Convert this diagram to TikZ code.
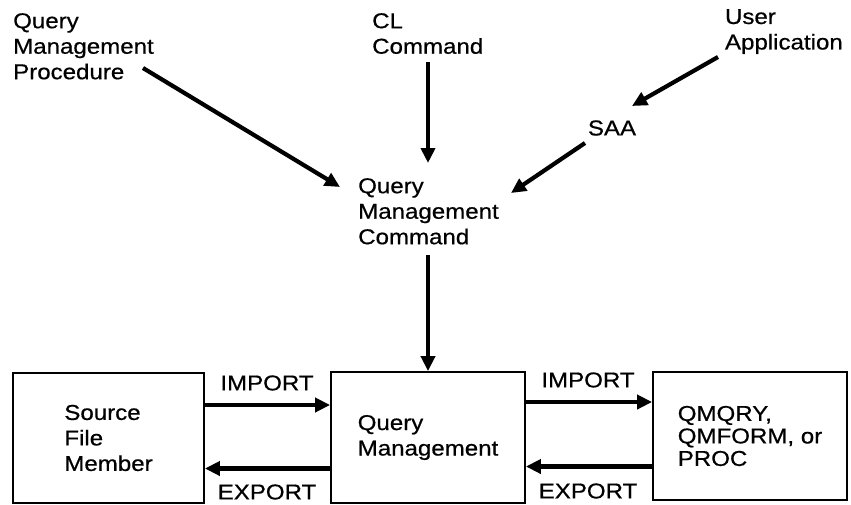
\documentclass[tikz,border=0pt]{standalone}
\usepackage{fontspec}
\setmainfont[FakeBold=0.6, FakeStretch=1.12]{Liberation Sans}
\usetikzlibrary{arrows.meta}

\begin{document}
\begin{tikzpicture}[x=1pt,y=-1pt,
  txt/.style={inner sep=0pt, align=left, font=\fontsize{21.5}{25.5}\selectfont},
  lbl/.style={txt, anchor=north west},
  box/.style={txt, draw, line width=1.8pt},
  flow/.style={line width=4.2pt, -{Triangle[length=15pt,width=14pt]}}]
  \useasboundingbox (0,0) rectangle (851,504);

  % sources of commands
  \node[lbl] (qmp) at (13,13) {Query\\Management\\Procedure};
  \node[lbl] (cl)  at (372,13) {CL\\Command};
  \node[lbl, anchor=north east] (ua) at (843,9) {User\\Application};
  \node[txt] (saa) at (612,128) {SAA};
  \node[lbl] (qmc) at (358,178) {Query\\Management\\Command};

  % boxes along the bottom
  \node[box, minimum width=191pt, minimum height=130pt] (src) at (108.5,438) {Source\\File\\Member};
  \node[box, minimum width=194pt, minimum height=131pt] (qm)  at (428,437.5) {Query\\Management};
  \node[box, minimum width=194pt, minimum height=128pt,
        font=\fontsize{21.5}{22.5}\selectfont] (obj) at (750,436) {QMQRY,\\QMFORM, or\\PROC};

  % arrow end points
  \coordinate (qmpS) at (143,68);
  \coordinate (qmpE) at (340,187);
  \coordinate (clS)  at (428,62);
  \coordinate (clE)  at (428,163);
  \coordinate (uaS)  at (718,57);
  \coordinate (uaE)  at (632,106);
  \coordinate (saaS) at (585,143);
  \coordinate (saaE) at (511,193);
  \coordinate (qmcS) at (428,255);

  \draw[flow] (qmpS) -- (qmpE);
  \draw[flow] (clS) -- (clE);
  \draw[flow] (uaS) -- (uaE);
  \draw[flow] (saaS) -- (saaE);
  \draw[flow] (qmcS) -- (qmcS |- qm.north);

  % import / export between the boxes
  \draw[flow] ([yshift=33pt]src.east) -- ([yshift=33pt]src.east -| qm.west);
  \draw[flow] ([yshift=-31pt]qm.west) -- ([yshift=-31pt]qm.west -| src.east);
  \draw[flow] ([yshift=35.5pt]qm.east) -- ([yshift=35.5pt]qm.east -| obj.west);
  \draw[flow] ([yshift=-30.5pt]obj.west) -- ([yshift=-30.5pt]obj.west -| qm.east);

  \node[txt] (imp1) at (267,383) {IMPORT};
  \node[txt] (exp1) at (267,492) {EXPORT};
  \node[txt] (imp2) at (588,380) {IMPORT};
  \node[txt] (exp2) at (588,491) {EXPORT};
\end{tikzpicture}
\end{document}
